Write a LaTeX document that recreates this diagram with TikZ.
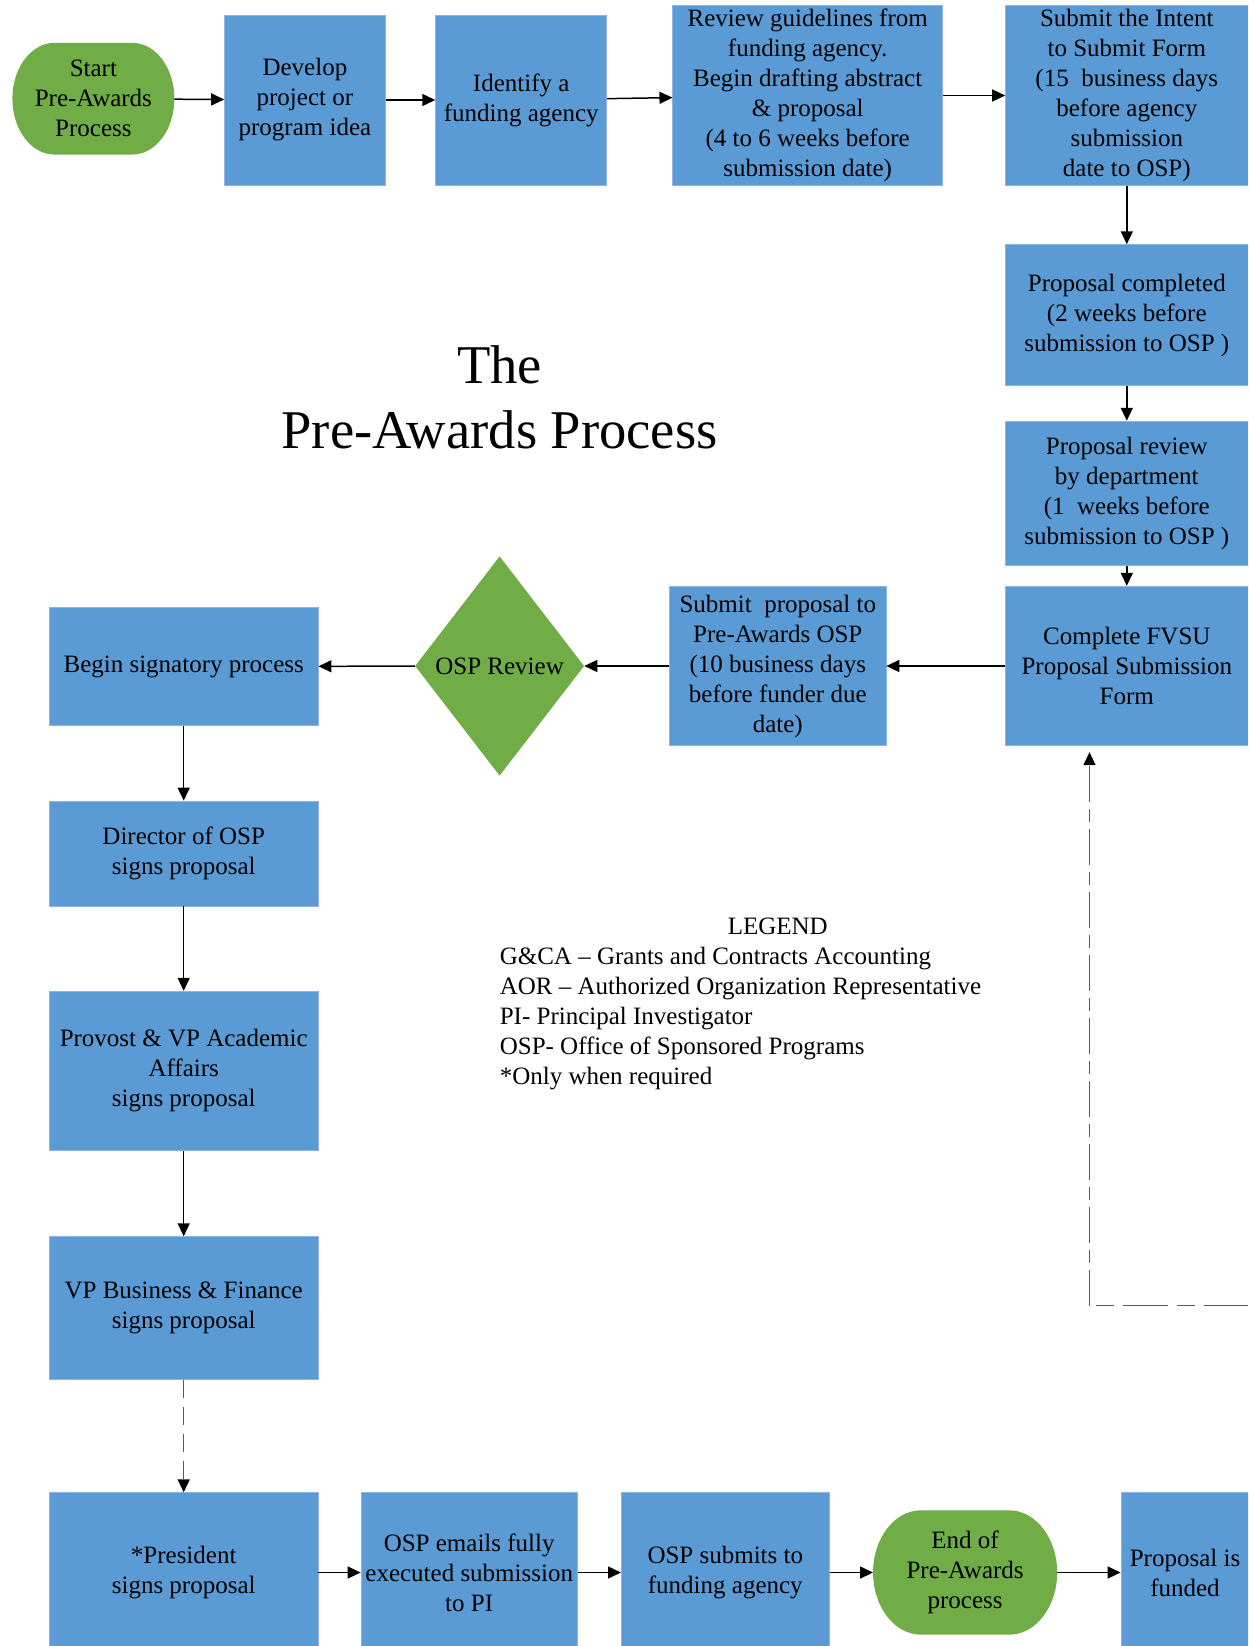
\documentclass[tikz,border=0pt]{standalone}
\usepackage{fontspec}
\setmainfont{Liberation Serif}
\usetikzlibrary{arrows.meta,shapes.geometric,calc,backgrounds}
\definecolor{boxblue}{HTML}{5B9BD5}
\definecolor{boxedge}{HTML}{8DB7E2}
\definecolor{boxgreen}{HTML}{70AD47}
\definecolor{dashgray}{HTML}{595959}
\newcommand\myboxfont{\fontsize{25}{30}\selectfont}
\newcommand\mytitlefont{\fontsize{54.6}{65}\selectfont}
% fill an oval with elliptical ends behind node #1, horizontal radius #2 (pt)
\newcommand\myovalfill[2]{%
 \fill[boxgreen] let \p1=(#1.north west), \p2=(#1.south east),
   \n1={(\y1+\y2)/2}, \n3={#2pt}, \n4={0.5523*#2pt}, \n5={0.5523*(\y1-\y2)/2} in
  ({\x1+\n3},\y1) -- ({\x2-\n3},\y1)
  .. controls ({\x2-\n3+\n4},\y1) and (\x2,{\n1+\n5}) .. (\x2,\n1)
  .. controls (\x2,{\n1-\n5}) and ({\x2-\n3+\n4},\y2) .. ({\x2-\n3},\y2)
  -- ({\x1+\n3},\y2)
  .. controls ({\x1+\n3-\n4},\y2) and (\x1,{\n1-\n5}) .. (\x1,\n1)
  .. controls (\x1,{\n1+\n5}) and ({\x1+\n3-\n4},\y1) .. cycle;}
\begin{document}
\begin{tikzpicture}[x=1pt,y=-1pt,
  bluebox/.style={rectangle, fill=boxblue, draw=boxedge, line width=0.8pt, inner sep=0pt, align=center, font=\myboxfont, text=black},
  greenoval/.style={rectangle, inner sep=0pt, align=center, font=\myboxfont},
  greendia/.style={diamond, fill=boxgreen, inner sep=0pt, font=\myboxfont, aspect=0.77},
  legtext/.style={font=\myboxfont, inner sep=0pt},
  arr/.style={-{Triangle[length=13pt,width=12pt]}, line width=1.5pt},
  dashline/.style={line width=1.5pt, draw=dashgray},
  dasharr/.style={-{Triangle[length=13pt,width=12pt,black]}, line width=1.5pt, draw=dashgray}]
\useasboundingbox (0,0) rectangle (1248,1646);
\clip (0,0) rectangle (1248,1646);

% top row
\node[greenoval, minimum width=161.6pt, minimum height=111.3pt] (start) at (93.4,98.7) {Start\\Pre-Awards\\Process};
\node[bluebox, minimum width=160.6pt, minimum height=170pt] (develop) at (304.9,100) {Develop\\project or\\program idea};
\node[bluebox, minimum width=171.1pt, minimum height=170pt] (identify) at (521.2,100) {Identify a\\funding agency};
\node[bluebox, minimum width=269.7pt, minimum height=179.5pt] (review) at (807.7,95.5) {Review guidelines from\\funding agency.\\Begin drafting abstract\\\& proposal\\(4 to 6 weeks before\\submission date)};
\node[bluebox, minimum width=242.5pt, minimum height=179.5pt] (intent) at (1126.8,95.5) {Submit the Intent\\to Submit Form\\(15\ \ business days\\before agency\\submission\\date to OSP)};

% right column
\node[bluebox, minimum width=242.5pt, minimum height=140.7pt] (propcomp) at (1126.8,315) {Proposal completed\\(2 weeks before\\submission to OSP )};
\node[bluebox, minimum width=242.5pt, minimum height=144.7pt] (proprev) at (1126.8,493.5) {Proposal review\\by department\\(1\ \ weeks before\\submission to OSP )};
\node[bluebox, minimum width=242.5pt, minimum height=159.5pt] (fvsu) at (1126.8,666) {Complete FVSU\\Proposal Submission\\Form};

% middle row
\node[bluebox, minimum width=216.3pt, minimum height=159.5pt] (subprop) at (777.8,666) {Submit\ \ proposal to\\Pre-Awards OSP\\(10 business days\\before funder due\\date)};
\node[greendia, minimum width=169pt, minimum height=219.4pt] (osprev) at (499.6,666) {OSP Review};
\node[bluebox, minimum width=268.7pt, minimum height=118.6pt] (begin) at (183.7,666.5) {Begin signatory process};

% left column
\node[bluebox, minimum width=268.7pt, minimum height=105pt] (director) at (183.7,853.5) {Director of OSP\\signs proposal};
\node[bluebox, minimum width=268.7pt, minimum height=159.5pt] (provost) at (183.7,1071) {Provost \& VP Academic\\Affairs\\signs proposal};
\node[bluebox, minimum width=268.7pt, minimum height=142.7pt] (vpbf) at (183.7,1308) {VP Business \& Finance\\signs proposal};

% bottom row
\node[bluebox, minimum width=268.7pt, minimum height=159.6pt] (president) at (183.7,1572.5) {*President\\signs proposal};
\node[bluebox, minimum width=216.3pt, minimum height=159.6pt] (emails) at (469.2,1572.5) {OSP emails fully\\executed submission\\to PI};
\node[bluebox, minimum width=207.8pt, minimum height=159.6pt] (submits) at (725.3,1572.5) {OSP submits to\\funding agency};
\node[greenoval, minimum width=183.7pt, minimum height=124pt] (endnode) at (965.1,1572.5) {End of\\Pre-Awards\\process};
\node[bluebox, minimum width=128pt, minimum height=159.6pt] (funded) at (1185,1572.5) {Proposal is\\funded};

% oval fills behind the two terminal nodes
\begin{scope}[on background layer]
\myovalfill{start}{42}
\myovalfill{endnode}{48}
\end{scope}

% title
\node[font=\mytitlefont, inner sep=0pt, anchor=base] (title1) at (499.6,383) {The};
\node[font=\mytitlefont, inner sep=0pt, anchor=base] (title2) at (499.6,448) {Pre-Awards Process};

% legend
\node[legtext, anchor=base] (leghead) at (777.8,934) {LEGEND};
\node[legtext, anchor=base west] (leg1) at (499.6,964) {G\&CA – Grants and Contracts Accounting};
\node[legtext, anchor=base west] (leg2) at (499.6,994) {AOR – Authorized Organization Representative};
\node[legtext, anchor=base west] (leg3) at (499.6,1024) {PI- Principal Investigator};
\node[legtext, anchor=base west] (leg4) at (499.6,1054) {OSP- Office of Sponsored Programs};
\node[legtext, anchor=base west] (leg5) at (499.6,1084) {*Only when required};

% connectors
\draw[arr] (start) -- (develop);
\draw[arr] (develop) -- (identify);
\draw[arr] (identify) -- (review);
\draw[arr] (review) -- (intent);
\draw[arr] (intent) -- (propcomp);
\draw[arr] (propcomp) -- (proprev);
\draw[arr] (proprev) -- (fvsu);
\draw[arr] (fvsu) -- (subprop);
\draw[arr] (subprop) -- (osprev);
\draw[arr] (osprev) -- (begin);
\draw[arr] (begin) -- (director);
\draw[arr] (director) -- (provost);
\draw[arr] (provost) -- (vpbf);
\draw[dasharr, dash pattern=on 18pt off 9pt] (vpbf) -- (president);
\draw[arr] (president) -- (emails);
\draw[arr] (emails) -- (submits);
\draw[arr] (submits) -- (endnode);
\draw[arr] (endnode) -- (funded);

% feedback dashed connector
\coordinate (fbstart) at (1248,1305.7);
\coordinate (fbcorner) at (1089.5,1305.7);
\draw[dashline, dash pattern=on 18pt off 9pt on 45pt off 9pt, shorten <=6pt] (fbcorner) -- (fbstart);
\draw[dasharr, dash pattern=on 36pt off 7pt on 13pt off 7pt, shorten >=6pt] (fbcorner) -- (fbcorner |- fvsu.south);
\end{tikzpicture}
\end{document}
